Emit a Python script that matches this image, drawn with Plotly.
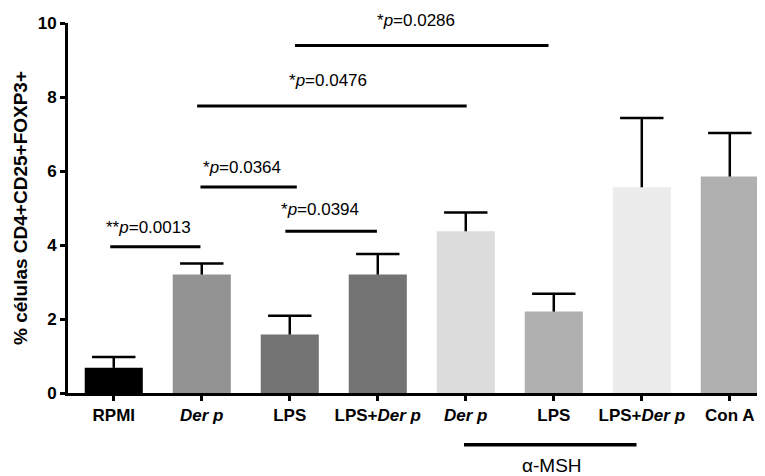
import plotly.graph_objects as go

# ---- data ----
categories = ["RPMI", "Der p", "LPS", "LPS+Der p", "a-MSH Der p", "a-MSH LPS", "a-MSH LPS+Der p", "Con A"]
tick_labels = ["<b>RPMI</b>", "<b><i>Der p</i></b>", "<b>LPS</b>", "<b>LPS+<i>Der p</i></b>",
               "<b><i>Der p</i></b>", "<b>LPS</b>", "<b>LPS+<i>Der p</i></b>", "<b>Con A</b>"]
means = [0.68, 3.20, 1.58, 3.20, 4.37, 2.20, 5.56, 5.85]
sem = [0.29, 0.30, 0.51, 0.56, 0.51, 0.48, 1.87, 1.18]
bar_colors = ["#000000", "#939393", "#737373", "#737373", "#dcdcdc", "#b0b0b0", "#ececec", "#b0b0b0"]
y_ticks = [0, 2, 4, 6, 8, 10]

# significance brackets
comp_labels = ["**<i>p</i>=0.0013", "*<i>p</i>=0.0364", "*<i>p</i>=0.0394", "*<i>p</i>=0.0476", "*<i>p</i>=0.0286"]
comp_x0 = [-0.04, 0.985, 1.95, 0.947, 2.06]
comp_x1 = [0.985, 2.08, 2.99, 4.01, 4.94]
comp_y = [3.95, 5.57, 4.37, 7.76, 9.39]
comp_label_x = [0.40, 1.455, 2.34, 2.43, 3.43]
comp_label_y = [4.47, 6.10, 4.96, 8.44, 10.06]

FONT = "Liberation Sans, Arial, Helvetica, sans-serif"
xpos = list(range(len(categories)))
Y_MAX = y_ticks[-1]

fig = go.Figure()
fig.add_trace(go.Bar(
    x=xpos, y=means, width=0.66,
    marker=dict(color=bar_colors, line=dict(width=0)),
    showlegend=False, hoverinfo="skip",
))

# error bars (upper only): stems + caps
tops = [m + s for m, s in zip(means, sem)]
fig.add_trace(go.Scatter(
    x=xpos, y=tops, mode="markers",
    marker=dict(symbol="line-ew", size=31, color="black", line=dict(width=2.5, color="black")),
    error_y=dict(type="data", symmetric=False, array=[0] * len(sem), arrayminus=sem,
                 width=0, thickness=2.5, color="black"),
    showlegend=False, hoverinfo="skip", cliponaxis=False,
))

shapes = []
annotations = []
for lab, x0, x1, y, lx, ly in zip(comp_labels, comp_x0, comp_x1, comp_y, comp_label_x, comp_label_y):
    shapes.append(dict(type="line", xref="x", yref="y", x0=x0, x1=x1, y0=y, y1=y,
                       line=dict(color="black", width=3)))
    annotations.append(dict(xref="x", yref="paper", x=lx, y=ly / Y_MAX, text=lab, showarrow=False,
                            font=dict(family=FONT, size=17, color="black"),
                            xanchor="center", yanchor="middle"))

# alpha-MSH group bar
shapes.append(dict(type="line", xref="x", yref="paper", x0=3.98, x1=5.94, y0=-0.14, y1=-0.14,
                   line=dict(color="black", width=3.5)))
annotations.append(dict(xref="x", yref="paper", x=4.985, y=-0.196, text="α-MSH", showarrow=False,
                        font=dict(family=FONT, size=19, color="black"),
                        xanchor="center", yanchor="middle"))

# page body has an 8px margin -> figure sized to fill the remaining window
fig.update_layout(
    width=757, height=468,
    margin=dict(l=60, r=0, t=15, b=83),
    paper_bgcolor="white", plot_bgcolor="white",
    shapes=shapes, annotations=annotations,
    font=dict(family=FONT, color="black"),
)
fig.update_xaxes(
    range=[-0.52, 7.40], tickmode="array", tickvals=xpos, ticktext=tick_labels,
    showline=True, linecolor="black", linewidth=3,
    ticks="outside", ticklen=5, tickwidth=3, tickcolor="black",
    tickfont=dict(family=FONT, size=17, color="black"),
    showgrid=False, zeroline=False,
)
fig.update_yaxes(
    range=[0, Y_MAX], tickmode="array", tickvals=y_ticks, ticktext=[f"<b>{v}</b>" for v in y_ticks],
    showline=True, linecolor="black", linewidth=3,
    ticks="outside", ticklen=5, tickwidth=3, tickcolor="black",
    tickfont=dict(family=FONT, size=17, color="black"),
    showgrid=False, zeroline=False,
    title=dict(text="<b>% células CD4+CD25+FOXP3+</b>", font=dict(family=FONT, size=19, color="black"),
               standoff=6),
)

fig.write_html("out.html")
